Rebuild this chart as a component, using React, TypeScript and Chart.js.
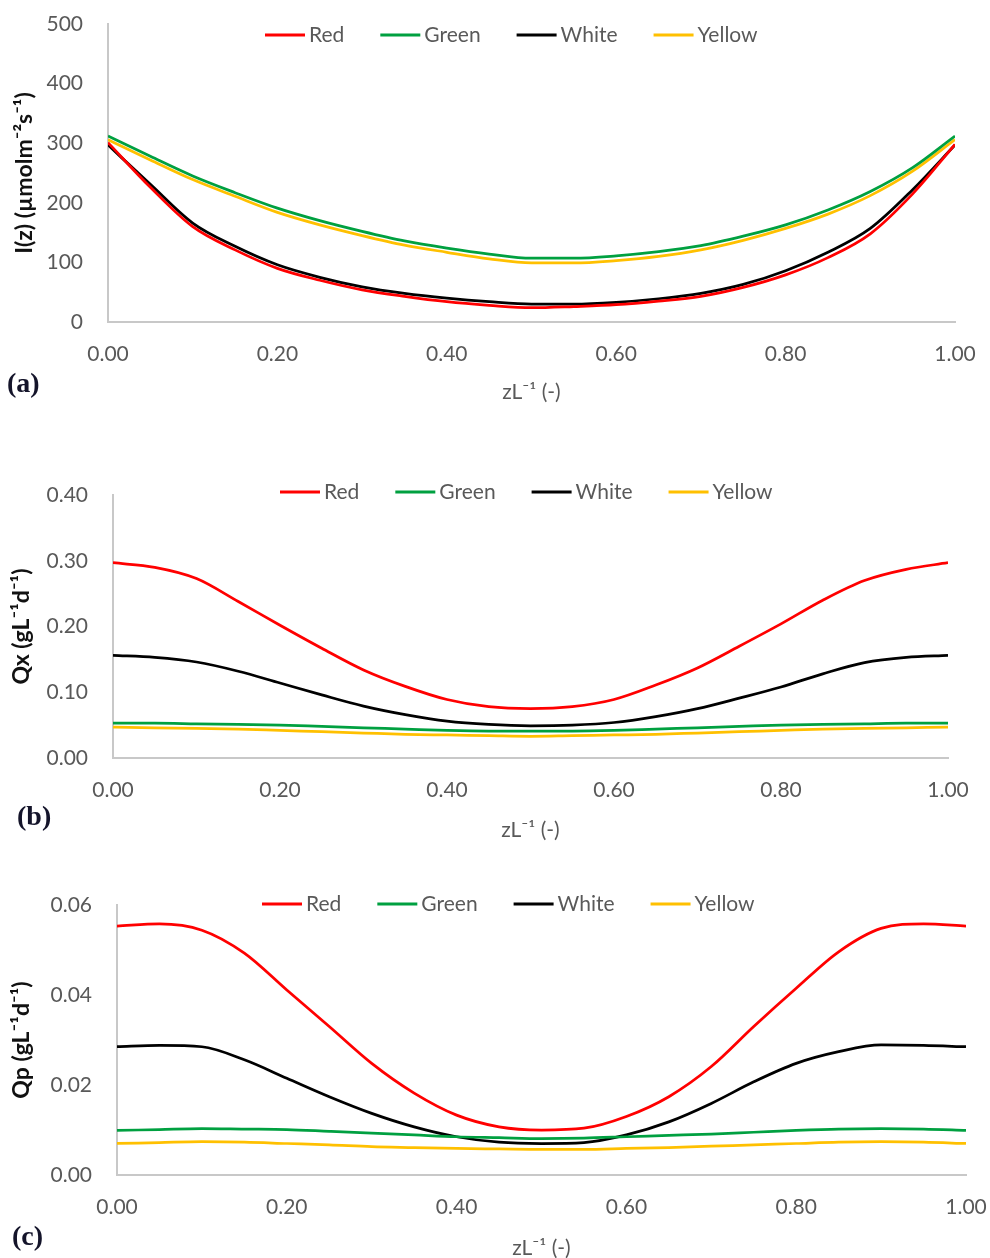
import React, { useEffect, useRef } from "react";
import { Chart, registerables } from "chart.js";

Chart.register(...registerables);

// ---------------- data ----------------
const SERIES_NAMES = ["Red", "Green", "White", "Yellow"];
const SERIES_COLORS = ["#ff0000", "#00a040", "#000000", "#ffc000"];

const Z_VALUES = [
  0, 0.05, 0.1, 0.15, 0.2, 0.25, 0.3, 0.35, 0.4, 0.45, 0.5,
  0.55, 0.6, 0.65, 0.7, 0.75, 0.8, 0.85, 0.9, 0.95, 1.0,
];
const X_TICK_LABELS_STEP = 0.2;

// (a) light intensity I(z)
const RED_I = [301, 226, 160, 121, 90, 70, 54, 43, 34, 28, 24, 26, 29, 35, 43, 58, 79, 108, 148, 215, 298];
const GREEN_I = [312, 278, 245, 217, 191, 170, 152, 136, 124, 114, 107, 107, 111, 118, 128, 144, 163, 188, 219, 259, 312];
const WHITE_I = [297, 231, 166, 127, 96, 75, 59, 48, 40, 34, 30, 30, 33, 39, 48, 63, 86, 117, 157, 222, 297];
const YELLOW_I = [306, 272, 239, 211, 184, 163, 145, 129, 117, 106, 99, 99, 103, 110, 121, 137, 157, 181, 212, 253, 306];

// (b) Qx
const RED_QX = [0.297, 0.29, 0.273, 0.238, 0.202, 0.167, 0.134, 0.109, 0.089, 0.078, 0.075, 0.078, 0.089, 0.111, 0.137, 0.17, 0.204, 0.24, 0.27, 0.287, 0.297];
const GREEN_QX = [0.053, 0.053, 0.052, 0.051, 0.05, 0.048, 0.046, 0.044, 0.042, 0.041, 0.041, 0.041, 0.042, 0.044, 0.046, 0.048, 0.05, 0.051, 0.052, 0.053, 0.053];
const WHITE_QX = [0.156, 0.153, 0.146, 0.132, 0.114, 0.096, 0.079, 0.066, 0.056, 0.051, 0.049, 0.05, 0.054, 0.063, 0.075, 0.091, 0.108, 0.128, 0.145, 0.153, 0.156];
const YELLOW_QX = [0.047, 0.046, 0.045, 0.044, 0.042, 0.04, 0.038, 0.036, 0.035, 0.034, 0.033, 0.034, 0.035, 0.036, 0.038, 0.04, 0.042, 0.044, 0.045, 0.046, 0.047];

// (c) Qp
const RED_QP = [0.0553, 0.0558, 0.0544, 0.0493, 0.0411, 0.033, 0.0248, 0.0182, 0.0133, 0.0107, 0.01, 0.0104, 0.013, 0.0174, 0.0241, 0.033, 0.0415, 0.0496, 0.0548, 0.0558, 0.0553];
const GREEN_QP = [0.0099, 0.0101, 0.0103, 0.0102, 0.0101, 0.0097, 0.0093, 0.0089, 0.0085, 0.0083, 0.0081, 0.0082, 0.0085, 0.0088, 0.0091, 0.0095, 0.0099, 0.0102, 0.0103, 0.0102, 0.0099];
const WHITE_QP = [0.0285, 0.0288, 0.0285, 0.0256, 0.0215, 0.0174, 0.0137, 0.0107, 0.0085, 0.0073, 0.007, 0.0072, 0.0089, 0.0118, 0.0159, 0.0207, 0.0248, 0.0274, 0.0289, 0.0288, 0.0285];
const YELLOW_QP = [0.007, 0.0072, 0.0074, 0.0073, 0.007, 0.0067, 0.0063, 0.0061, 0.0059, 0.0058, 0.0057, 0.0057, 0.0059, 0.0061, 0.0064, 0.0067, 0.007, 0.0073, 0.0074, 0.0073, 0.007];

const X_TITLE = "zL\u207B\u00B9 (-)";
const PANEL_LABELS = ["(a)", "(b)", "(c)"];

// ---------------- styling ----------------
const FONT = "Lato, 'Open Sans', 'DejaVu Sans', sans-serif";
const TEXT_GREY = "#595959";
const AXIS_GREY = "#c8c8c8";
const PAGE_W = 990;

type Spec = {
  series: number[][];
  yMin: number;
  yMax: number;
  yStep: number;
  yDecimals: number;
  yTitle: string;
  canvasTop: number;
  canvasHeight: number;
  plotLeft: number;
  plotTop: number;
  plotRight: number;
  plotBottom: number;
  yTitleX: number;
  legendX: number;
  legendY: number;
};

const SPECS: Spec[] = [
  {
    series: [RED_I, GREEN_I, WHITE_I, YELLOW_I],
    yMin: 0, yMax: 500, yStep: 100, yDecimals: 0,
    yTitle: "I(z) (\u00B5molm\u207B\u00B2s\u207B\u00B9)",
    canvasTop: 0, canvasHeight: 405,
    plotLeft: 108, plotTop: 24, plotRight: 955, plotBottom: 322,
    yTitleX: 25, legendX: 265, legendY: 35,
  },
  {
    series: [RED_QX, GREEN_QX, WHITE_QX, YELLOW_QX],
    yMin: 0, yMax: 0.4, yStep: 0.1, yDecimals: 2,
    yTitle: "Qx (gL\u207B\u00B9d\u207B\u00B9)",
    canvasTop: 420, canvasHeight: 423,
    plotLeft: 113, plotTop: 495, plotRight: 948, plotBottom: 758,
    yTitleX: 22, legendX: 280, legendY: 492,
  },
  {
    series: [RED_QP, GREEN_QP, WHITE_QP, YELLOW_QP],
    yMin: 0, yMax: 0.06, yStep: 0.02, yDecimals: 2,
    yTitle: "Qp (gL\u207B\u00B9d\u207B\u00B9)",
    canvasTop: 850, canvasHeight: 411,
    plotLeft: 117, plotTop: 905, plotRight: 966, plotBottom: 1175,
    yTitleX: 22, legendX: 262, legendY: 904,
  },
];

const PANEL_LABEL_POS = [
  { left: 7, centerY: 383 },
  { left: 17, centerY: 816 },
  { left: 12, centerY: 1236 },
];

// legend drawn inside the plot, Excel style (line sample + label)
const lineLegend = {
  id: "lineLegend",
  afterDraw(chart: any, _args: any, opts: any) {
    const ctx = chart.ctx;
    ctx.save();
    ctx.font = `21px ${FONT}`;
    ctx.textBaseline = "middle";
    ctx.textAlign = "left";
    let x = opts.x;
    const y = opts.y;
    chart.data.datasets.forEach((ds: any) => {
      ctx.strokeStyle = ds.borderColor;
      ctx.lineWidth = 3;
      ctx.beginPath();
      ctx.moveTo(x, y);
      ctx.lineTo(x + 40, y);
      ctx.stroke();
      x += 44;
      ctx.fillStyle = TEXT_GREY;
      ctx.fillText(ds.label, x, y);
      x += ctx.measureText(ds.label).width + 36;
    });
    ctx.restore();
  },
};

function buildConfig(spec: Spec): any {
  const datasets = spec.series.map((vals, i) => ({
    label: SERIES_NAMES[i],
    data: Z_VALUES.map((z, k) => ({ x: z, y: vals[k] })),
    borderColor: SERIES_COLORS[i],
    backgroundColor: SERIES_COLORS[i],
    borderWidth: 2.75,
    pointRadius: 0,
    cubicInterpolationMode: "monotone",
    fill: false,
  }));
  const xAxisHeight = spec.canvasTop + spec.canvasHeight - spec.plotBottom;
  return {
    type: "line",
    data: { datasets },
    plugins: [lineLegend],
    options: {
      responsive: false,
      animation: false,
      devicePixelRatio: 1,
      layout: {
        padding: {
          left: 0,
          top: spec.plotTop - spec.canvasTop,
          right: PAGE_W - spec.plotRight,
          bottom: 0,
        },
      },
      plugins: {
        legend: { display: false },
        tooltip: { enabled: false },
        lineLegend: { x: spec.legendX, y: spec.legendY - spec.canvasTop },
      },
      scales: {
        x: {
          type: "linear",
          min: 0,
          max: 1,
          grid: { display: false, drawTicks: false },
          border: { display: true, color: AXIS_GREY, width: 2 },
          ticks: {
            stepSize: X_TICK_LABELS_STEP,
            padding: 20,
            color: TEXT_GREY,
            font: { family: FONT, size: 21 },
            maxRotation: 0,
            callback: (v: number) => Number(v).toFixed(2),
          },
          title: {
            display: true,
            text: X_TITLE,
            color: TEXT_GREY,
            font: { family: FONT, size: 21 },
            padding: { top: 0, bottom: 0 },
          },
          afterFit: (s: any) => {
            s.height = xAxisHeight;
            s.paddingLeft = 0;
            s.paddingRight = 0;
          },
        },
        y: {
          min: spec.yMin,
          max: spec.yMax,
          grid: { display: false, drawTicks: false },
          border: { display: true, color: AXIS_GREY, width: 2 },
          ticks: {
            stepSize: spec.yStep,
            padding: 25,
            color: TEXT_GREY,
            font: { family: FONT, size: 21 },
            callback: (v: number) => Number(v).toFixed(spec.yDecimals),
          },
          title: {
            display: true,
            text: spec.yTitle,
            color: "#111111",
            font: { family: FONT, size: 23, weight: "bold" },
            padding: { top: spec.yTitleX - 13.8, bottom: 0 },
          },
          afterFit: (s: any) => {
            s.width = spec.plotLeft;
            s.paddingTop = 0;
            s.paddingBottom = 0;
          },
        },
      },
    },
  };
}

function ChartPanel({ spec }: { spec: Spec }) {
  const ref = useRef<HTMLCanvasElement | null>(null);
  useEffect(() => {
    if (!ref.current) return;
    const chart = new Chart(ref.current, buildConfig(spec));
    return () => chart.destroy();
  }, [spec]);
  return (
    <canvas
      ref={ref}
      width={PAGE_W}
      height={spec.canvasHeight}
      style={{
        position: "absolute",
        left: 0,
        top: spec.canvasTop,
        width: PAGE_W,
        height: spec.canvasHeight,
      }}
    />
  );
}

export default function App() {
  return (
    <div
      style={{
        position: "fixed",
        left: 0,
        top: 0,
        width: PAGE_W,
        height: 1258,
        overflow: "hidden",
        background: "#ffffff",
      }}
    >
      {SPECS.map((s, i) => (
        <ChartPanel key={i} spec={s} />
      ))}
      {PANEL_LABELS.map((t, i) => (
        <div
          key={t}
          style={{
            position: "absolute",
            left: PANEL_LABEL_POS[i].left,
            top: PANEL_LABEL_POS[i].centerY - 15,
            fontFamily: "'Liberation Serif', 'Times New Roman', serif",
            fontWeight: "bold",
            fontSize: 28,
            lineHeight: "30px",
            color: "#14142a",
          }}
        >
          {t}
        </div>
      ))}
    </div>
  );
}
